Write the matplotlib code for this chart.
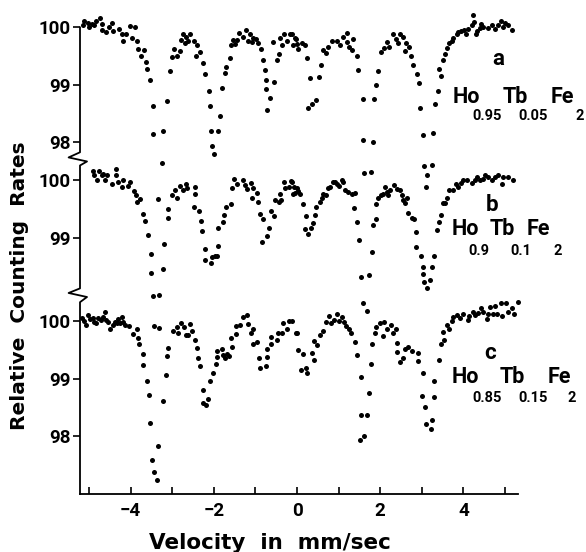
import matplotlib
matplotlib.use("Agg")
import matplotlib.pyplot as plt
import matplotlib.transforms as mtransforms

plt.rcParams["font.family"] = ["DejaVu Sans"]
plt.rcParams["font.weight"] = "bold"

# ---- spectrum a : Ho0.95 Tb0.05 Fe2 (velocity mm/s, relative counting rate %)
VEL_A = [-5.149, -5.109, -5.028, -4.988, -4.924, -4.868, -4.827, -4.747, -4.683, -4.683,
         -4.586, -4.522, -4.442, -4.426, -4.281, -4.201, -4.185, -4.104, -4.024, -3.960,
         -3.904, -3.847, -3.823, -3.743, -3.687, -3.623, -3.607, -3.542, -3.462, -3.462,
         -3.349, -3.237, -3.221, -3.117, -3.044, -3.012, -2.964, -2.884, -2.819, -2.779,
         -2.739, -2.699, -2.659, -2.619, -2.578, -2.482, -2.434, -2.402, -2.337, -2.257,
         -2.217, -2.113, -2.096, -2.072, -2.048, -2.000, -1.896, -1.855, -1.799, -1.727,
         -1.711, -1.615, -1.598, -1.550, -1.494, -1.438, -1.390, -1.293, -1.229, -1.189,
         -1.133, -1.092, -1.052, -0.988, -0.932, -0.876, -0.827, -0.771, -0.747, -0.747,
         -0.731, -0.651, -0.570, -0.546, -0.474, -0.426, -0.410, -0.362, -0.313, -0.249,
         -0.169, -0.128, -0.088, -0.048, -0.024, -0.008, 0.032, 0.112, 0.193, 0.233,
         0.273, 0.313, 0.353, 0.457, 0.537, 0.569, 0.633, 0.697, 0.753, 0.834,
         0.954, 1.034, 1.098, 1.194, 1.210, 1.258, 1.314, 1.354, 1.451, 1.475,
         1.595, 1.595, 1.610, 1.790, 1.819, 1.851, 1.899, 1.955, 2.011, 2.092,
         2.156, 2.212, 2.300, 2.380, 2.436, 2.476, 2.540, 2.596, 2.620, 2.701,
         2.733, 2.797, 2.877, 2.941, 2.957, 3.021, 3.050, 3.100, 3.120, 3.250,
         3.261, 3.317, 3.382, 3.422, 3.454, 3.502, 3.558, 3.614, 3.662, 3.718,
         3.758, 3.838, 3.879, 3.935, 4.015, 4.063, 4.119, 4.199, 4.223, 4.263,
         4.303, 4.335, 4.399, 4.415, 4.479, 4.600, 4.680, 4.760, 4.840, 4.896,
         4.960, 5.000, 5.080, 5.160]
PCT_A = [100.04, 100.11, 100.08, 100.01, 100.06, 100.04, 100.12, 100.17, 100.06, 99.96,
         99.92, 100.01, 100.08, 99.94, 99.98, 99.89, 99.77, 99.89, 100.02, 99.82,
         100.01, 99.76, 99.63, 99.51, 99.61, 99.40, 99.28, 99.09, 98.64, 98.14,
         97.01, 97.64, 98.20, 98.72, 99.24, 99.48, 99.63, 99.50, 99.59, 99.79,
         99.89, 99.73, 99.83, 99.76, 99.88, 99.77, 99.51, 99.69, 99.57, 99.38,
         99.19, 98.89, 98.63, 98.19, 97.94, 97.79, 98.19, 98.45, 98.95, 99.21,
         99.31, 99.47, 99.69, 99.79, 99.72, 99.79, 99.90, 99.84, 99.95, 99.77,
         99.88, 99.75, 99.82, 99.80, 99.73, 99.63, 99.44, 99.26, 99.09, 98.92,
         98.56, 98.77, 99.75, 99.05, 99.43, 99.54, 99.82, 99.70, 99.89, 99.76,
         99.88, 99.89, 99.69, 99.82, 99.80, 99.72, 99.63, 99.73, 99.70, 99.47,
         98.60, 99.12, 98.66, 98.73, 99.14, 99.34, 99.61, 99.55, 99.66, 99.76,
         99.77, 99.70, 99.84, 99.90, 99.75, 99.66, 99.61, 99.80, 99.51, 99.26,
         98.76, 98.04, 97.46, 97.48, 98.01, 98.75, 98.99, 99.24, 99.58, 99.65,
         99.75, 99.66, 99.88, 99.80, 99.73, 99.89, 99.83, 99.59, 99.73, 99.66,
         99.51, 99.34, 99.19, 99.03, 98.60, 98.12, 97.58, 97.22, 97.43, 97.60,
         98.16, 98.66, 98.90, 99.28, 99.15, 99.43, 99.53, 99.65, 99.73, 99.77,
         99.81, 99.89, 99.92, 99.94, 99.96, 99.89, 99.98, 100.04, 100.21, 100.09,
         99.89, 99.94, 99.99, 100.06, 100.01, 99.99, 100.05, 99.98, 100.04, 100.11,
         100.01, 100.08, 100.04, 99.96]

# ---- spectrum b : Ho0.9 Tb0.1 Fe2
VEL_B = [-4.911, -4.879, -4.799, -4.751, -4.695, -4.671, -4.615, -4.575, -4.455, -4.351,
         -4.351, -4.295, -4.214, -4.174, -4.054, -4.014, -3.918, -3.870, -3.854, -3.774,
         -3.710, -3.654, -3.589, -3.517, -3.517, -3.450, -3.440, -3.320, -3.310, -3.229,
         -3.189, -3.109, -3.093, -2.996, -2.932, -2.892, -2.812, -2.732, -2.668, -2.636,
         -2.476, -2.452, -2.452, -2.347, -2.315, -2.283, -2.211, -2.203, -2.075, -2.051,
         -1.971, -1.915, -1.891, -1.891, -1.787, -1.747, -1.706, -1.594, -1.570, -1.514,
         -1.434, -1.306, -1.250, -1.210, -1.106, -1.073, -1.065, -0.969, -0.929, -0.889,
         -0.849, -0.825, -0.713, -0.673, -0.633, -0.553, -0.529, -0.424, -0.408, -0.392,
         -0.312, -0.288, -0.184, -0.152, -0.128, -0.088, -0.072, -0.048, -0.008, 0.032,
         0.072, 0.153, 0.193, 0.217, 0.273, 0.329, 0.393, 0.433, 0.457, 0.553,
         0.593, 0.633, 0.697, 0.753, 0.794, 0.858, 0.914, 0.954, 1.018, 1.074,
         1.114, 1.154, 1.234, 1.314, 1.378, 1.394, 1.434, 1.499, 1.531, 1.580,
         1.690, 1.739, 1.795, 1.819, 1.899, 1.899, 1.955, 2.011, 2.076, 2.116,
         2.156, 2.196, 2.236, 2.332, 2.396, 2.476, 2.516, 2.556, 2.596, 2.652,
         2.676, 2.757, 2.813, 2.861, 2.861, 2.973, 3.021, 3.037, 3.053, 3.117,
         3.197, 3.237, 3.294, 3.374, 3.422, 3.454, 3.502, 3.558, 3.598, 3.662,
         3.758, 3.822, 3.878, 3.935, 3.999, 4.079, 4.199, 4.279, 4.319, 4.399,
         4.463, 4.520, 4.600, 4.680, 4.760, 4.840, 4.920, 4.960, 5.080, 5.184]
PCT_B = [100.17, 100.09, 100.00, 100.17, 100.09, 100.11, 100.00, 100.09, 99.94, 100.20,
         100.09, 99.97, 99.89, 100.01, 99.90, 99.97, 99.82, 99.74, 99.63, 99.67,
         99.42, 99.29, 99.04, 98.71, 98.39, 97.98, 97.46, 97.42, 98.00, 98.46,
         98.89, 99.35, 99.50, 99.74, 99.83, 99.70, 99.90, 99.83, 99.94, 99.86,
         99.54, 99.89, 99.76, 99.46, 99.29, 99.11, 98.81, 98.62, 98.56, 98.66,
         98.68, 98.68, 98.85, 99.17, 99.27, 99.40, 99.53, 99.58, 99.86, 100.03,
         99.93, 100.00, 99.91, 99.84, 99.95, 99.70, 99.86, 99.78, 99.62, 99.41,
         98.92, 99.33, 99.03, 99.17, 99.47, 99.38, 99.65, 99.63, 99.76, 99.65,
         99.97, 99.86, 99.89, 99.99, 99.97, 99.77, 99.89, 99.78, 99.86, 99.82,
         99.77, 99.59, 99.16, 99.38, 99.06, 99.17, 99.26, 99.40, 99.54, 99.63,
         99.69, 99.77, 99.74, 99.86, 99.89, 99.97, 99.97, 99.94, 99.90, 100.00,
         99.97, 99.83, 99.80, 99.77, 99.52, 99.78, 99.28, 98.96, 98.32, 97.86,
         97.73, 98.35, 98.75, 99.23, 99.33, 99.58, 99.69, 99.74, 99.77, 99.89,
         99.80, 99.74, 99.83, 99.91, 99.84, 99.83, 99.74, 99.66, 99.61, 99.69,
         99.43, 99.35, 99.32, 99.10, 98.83, 98.69, 98.49, 98.36, 98.23, 98.13,
         98.26, 98.49, 98.69, 99.13, 99.27, 99.39, 99.60, 99.61, 99.69, 99.83,
         99.83, 99.94, 99.89, 99.95, 100.00, 100.01, 99.95, 100.01, 100.06, 100.00,
         100.03, 100.09, 100.05, 100.01, 100.06, 100.09, 99.94, 100.05, 100.06, 100.01]

# ---- spectrum c : Ho0.85 Tb0.15 Fe2
VEL_C = [-5.176, -5.120, -5.072, -5.016, -4.976, -4.911, -4.879, -4.831, -4.775, -4.719,
         -4.671, -4.615, -4.591, -4.535, -4.495, -4.431, -4.375, -4.335, -4.295, -4.254,
         -4.214, -4.174, -4.134, -4.030, -3.934, -3.854, -3.814, -3.790, -3.710, -3.694,
         -3.597, -3.557, -3.533, -3.493, -3.438, -3.373, -3.349, -3.229, -3.149, -3.117,
         -3.093, -2.972, -2.892, -2.852, -2.796, -2.716, -2.668, -2.612, -2.572, -2.532,
         -2.452, -2.396, -2.380, -2.331, -2.251, -2.267, -2.187, -2.131, -2.091, -2.011,
         -1.947, -1.931, -1.915, -1.811, -1.771, -1.730, -1.690, -1.626, -1.570, -1.594,
         -1.466, -1.466, -1.370, -1.290, -1.210, -1.170, -1.113, -1.065, -1.049, -0.953,
         -0.905, -0.889, -0.745, -0.729, -0.713, -0.633, -0.625, -0.488, -0.448, -0.368,
         -0.328, -0.232, -0.184, -0.128, -0.024, -0.008, 0.032, 0.090, 0.137, 0.217,
         0.233, 0.353, 0.409, 0.409, 0.489, 0.553, 0.617, 0.697, 0.778, 0.810,
         0.890, 0.970, 1.018, 1.074, 1.130, 1.178, 1.258, 1.290, 1.394, 1.451,
         1.531, 1.731, 1.531, 1.691, 1.515, 1.611, 1.795, 1.779, 1.875, 1.899,
         1.996, 2.060, 2.092, 2.156, 2.252, 2.300, 2.380, 2.412, 2.412, 2.476,
         2.556, 2.596, 2.677, 2.757, 2.917, 2.901, 3.021, 2.997, 3.077, 3.101,
         3.237, 3.213, 3.294, 3.302, 3.422, 3.454, 3.534, 3.502, 3.598, 3.662,
         3.718, 3.758, 3.838, 3.919, 3.999, 4.119, 4.143, 4.223, 4.279, 4.359,
         4.415, 4.463, 4.576, 4.600, 4.640, 4.704, 4.760, 4.800, 4.896, 4.920,
         5.024, 5.080, 5.160, 5.216, 5.320]
PCT_C = [100.05, 100.01, 99.93, 100.10, 100.03, 100.06, 99.99, 99.96, 100.05, 100.02,
         100.08, 100.16, 100.02, 99.99, 99.86, 99.93, 99.99, 99.96, 100.03, 99.96,
         100.08, 99.99, 99.93, 99.91, 99.77, 99.86, 99.70, 99.60, 99.43, 99.23,
         98.95, 98.71, 98.22, 97.58, 97.38, 97.23, 97.83, 98.61, 99.06, 99.39,
         99.53, 99.83, 99.90, 99.80, 99.97, 99.89, 99.76, 99.76, 99.95, 99.83,
         99.67, 99.54, 99.35, 99.21, 98.80, 98.57, 98.54, 98.64, 98.95, 99.10,
         99.25, 99.48, 99.38, 99.51, 99.41, 99.35, 99.43, 99.39, 99.55, 99.70,
         99.77, 99.91, 99.93, 100.08, 100.10, 99.95, 99.79, 99.86, 99.60, 99.64,
         99.35, 99.18, 99.22, 99.37, 99.51, 99.60, 99.73, 99.67, 99.79, 99.80,
         99.97, 99.87, 100.01, 100.01, 99.80, 99.80, 99.50, 99.15, 99.43, 99.19,
         99.09, 99.44, 99.33, 99.66, 99.58, 99.76, 99.83, 99.99, 100.09, 99.97,
         100.02, 100.13, 100.01, 100.08, 99.99, 99.91, 99.86, 99.80, 99.64, 99.41,
         99.03, 98.74, 98.37, 98.37, 97.93, 98.00, 99.60, 99.26, 99.79, 99.89,
         99.96, 99.74, 99.99, 99.87, 99.93, 99.80, 99.87, 99.62, 99.47, 99.28,
         99.35, 99.51, 99.55, 99.48, 99.45, 99.30, 99.09, 98.70, 98.51, 98.21,
         98.28, 98.12, 98.68, 98.96, 99.32, 99.60, 99.68, 99.81, 99.93, 99.87,
         100.01, 100.08, 100.10, 100.05, 100.12, 100.02, 100.09, 100.16, 100.10, 100.14,
         100.22, 100.16, 100.03, 100.12, 100.24, 100.13, 100.26, 100.12, 100.31, 100.09,
         100.32, 100.16, 100.22, 100.13, 100.34]

SERIES = [(VEL_A, PCT_A), (VEL_B, PCT_B), (VEL_C, PCT_C)]
OFFSETS = [5.113, 2.452, 0.0]          # vertical shift of each spectrum on the common axis
YTICKS = [[100, 99, 98], [100, 99], [100, 99, 98]]
LETTERS = ["a", "b", "c"]
FORMULAS = [["Ho", "0.95", "Tb", "0.05", "Fe", "2"],
            ["Ho", "0.9", "Tb", "0.1", "Fe", "2"],
            ["Ho", "0.85", "Tb", "0.15", "Fe", "2"]]
XTICKS = [-4, -2, 0, 2, 4]

W, H = 586, 552
LABEL_FONT = ["Roboto", "DejaVu Sans"]


def fx(x):
    return x / W


def fy(y):
    return 1 - y / H


fig = plt.figure(figsize=(W / 100, H / 100), dpi=100)
ax = fig.add_axes([fx(80), 58 / H, 438 / W, 479 / H])
ax.set_xlim(-5.216, 5.312)
ax.set_ylim(96.99, 105.33)

for (vel, pct), off in zip(SERIES, OFFSETS):
    ax.plot(vel, [p + off for p in pct], "o", ms=3.6, color="black", mec="none", clip_on=False)

# axes: only the bottom spine, left spine drawn by hand with break marks
for side in ["top", "right", "left"]:
    ax.spines[side].set_visible(False)
ax.spines["bottom"].set_linewidth(1.3)

ax.set_xticks(XTICKS)
ax.set_xticklabels([f"\u2212{abs(t)}" if t < 0 else str(t) for t in XTICKS])
ax.set_xticks([-5, -3, -1, 1, 3, 5], minor=True)
ax.tick_params(axis="x", which="both", direction="in", length=5, width=1.2, pad=6, labelsize=13.5)

yt, yl = [], []
for ticks, off in zip(YTICKS, OFFSETS):
    for t in ticks:
        yt.append(t + off)
        yl.append(str(t))
ax.set_yticks(yt)
ax.set_yticklabels(yl)
ax.tick_params(axis="y", direction="out", length=5, width=1.2, pad=2, labelsize=13.5)
for lbl in ax.get_xticklabels() + ax.get_yticklabels():
    lbl.set_family(LABEL_FONT)
    lbl.set_fontweight("bold")

trans = mtransforms.blended_transform_factory(ax.transAxes, ax.transData)
sx = [0, 0, -0.026, 0.016, 0, 0, -0.026, 0.016, 0, 0]
sy = [105.113, 102.94, 102.85, 102.78, 102.71, 100.57, 100.49, 100.42, 100.33, 96.99]
ax.plot(sx, sy, color="black", lw=1.3, transform=trans, clip_on=False)

# spectrum labels
letter_pos = [(498, 59), (492, 205), (490, 353)]
big_x = [[453, 503, 551], [452, 490, 527], [452, 500, 548]]
sub_x = [[472, 518, 575], [468, 510, 553], [472, 518, 567]]
big_y = [97, 229, 377]
sub_y = [116, 251, 398]
for i in range(3):
    fig.text(fx(letter_pos[i][0]), fy(letter_pos[i][1]), LETTERS[i], fontsize=16,
             family=LABEL_FONT, ha="center", va="center")
    parts = FORMULAS[i]
    for j in range(3):
        fig.text(fx(big_x[i][j]), fy(big_y[i]), parts[2 * j], fontsize=15.5,
                 family=LABEL_FONT, ha="left", va="center")
        fig.text(fx(sub_x[i][j]), fy(sub_y[i]), parts[2 * j + 1], fontsize=10.5,
                 family=LABEL_FONT, ha="left", va="center")

fig.text(fx(20), fy(286), "Relative  Counting  Rates", rotation=90, fontsize=14.5,
         ha="center", va="center")
fig.text(fx(270), fy(543), "Velocity  in  mm/sec", fontsize=15.5, ha="center", va="center")

fig.savefig("out.png", dpi=100, facecolor="white")
